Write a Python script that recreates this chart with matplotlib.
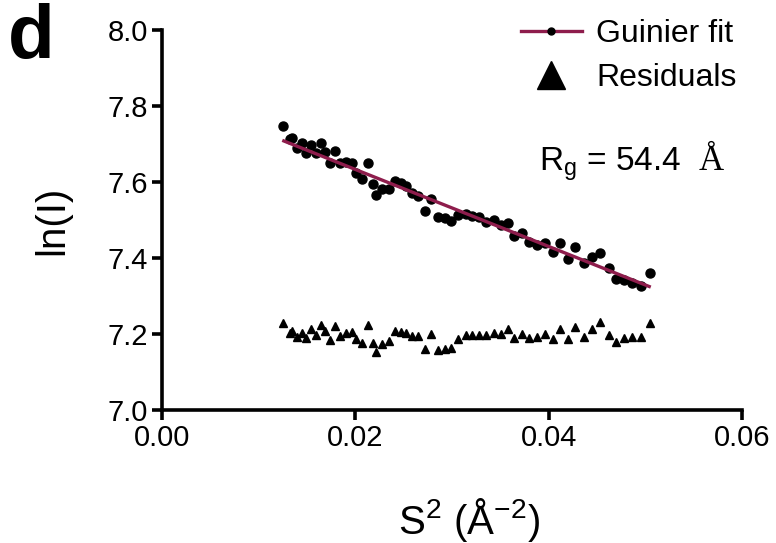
import numpy as np
import matplotlib
matplotlib.use('Agg')
import matplotlib.pyplot as plt
from matplotlib.lines import Line2D

plt.rcParams['font.family'] = ['Liberation Sans', 'DejaVu Sans']
plt.rcParams['mathtext.fontset'] = 'custom'
plt.rcParams['mathtext.rm'] = 'Liberation Sans'

# ---- data ----
s2 = [0.01251, 0.01320, 0.01347, 0.01395, 0.01443, 0.01492, 0.01543, 0.01595,
      0.01642, 0.01691, 0.01739, 0.01794, 0.01842, 0.01904, 0.01966, 0.02007,
      0.02069, 0.02127, 0.02178, 0.02213, 0.02275, 0.02343, 0.02405, 0.02471,
      0.02523, 0.02591, 0.02646, 0.02722, 0.02784, 0.02859, 0.02928, 0.02990,
      0.03065, 0.03141, 0.03209, 0.03278, 0.03354, 0.03433, 0.03505, 0.03574,
      0.03642, 0.03719, 0.03794, 0.03876, 0.03959, 0.04041, 0.04116, 0.04199,
      0.04275, 0.04364, 0.04446, 0.04536, 0.04619, 0.04701, 0.04776, 0.04866,
      0.04956, 0.05052]

lnI = [7.747, 7.712, 7.717, 7.689, 7.702, 7.677, 7.697, 7.676,
       7.702, 7.679, 7.649, 7.682, 7.649, 7.653, 7.651, 7.624,
       7.607, 7.651, 7.595, 7.565, 7.581, 7.581, 7.603, 7.597,
       7.589, 7.570, 7.563, 7.523, 7.556, 7.507, 7.504, 7.498,
       7.514, 7.516, 7.511, 7.509, 7.496, 7.500, 7.488, 7.491,
       7.458, 7.465, 7.442, 7.435, 7.440, 7.416, 7.440, 7.398,
       7.428, 7.388, 7.403, 7.414, 7.374, 7.344, 7.342, 7.335,
       7.326, 7.361]

residuals = [7.228, 7.203, 7.209, 7.193, 7.203, 7.189, 7.212, 7.197,
             7.224, 7.209, 7.184, 7.221, 7.195, 7.202, 7.205, 7.188,
             7.177, 7.223, 7.177, 7.153, 7.174, 7.182, 7.207, 7.205,
             7.203, 7.195, 7.195, 7.160, 7.200, 7.158, 7.161, 7.163,
             7.186, 7.197, 7.198, 7.198, 7.197, 7.203, 7.200, 7.212,
             7.189, 7.200, 7.189, 7.191, 7.200, 7.186, 7.214, 7.186,
             7.219, 7.193, 7.214, 7.232, 7.198, 7.179, 7.189, 7.191,
             7.193, 7.230]

fit_s2 = [0.0126, 0.0504]
fit_lnI = [7.708, 7.325]

x_ticks = [0.00, 0.02, 0.04, 0.06]
y_ticks = [7.0, 7.2, 7.4, 7.6, 7.8, 8.0]

fit_color = '#8e1d4c'

# ---- figure ----
fig = plt.figure(figsize=(7.76, 5.43), dpi=100)
ax = fig.add_axes([0.2088, 0.2449, 0.7474, 0.6999])

ax.plot(s2, lnI, 'o', color='black', markersize=6.5, zorder=3)
ax.plot(fit_s2, fit_lnI, '-', color=fit_color, linewidth=2.4, zorder=4)
ax.plot(s2, residuals, '^', color='black', markersize=5.5, zorder=3)

ax.set_xlim(0, 0.06)
ax.set_ylim(7.0, 8.0)
ax.set_xticks(x_ticks)
ax.set_yticks(y_ticks)
ax.set_xticklabels([f'{v:.2f}' for v in x_ticks])
ax.set_yticklabels([f'{v:.1f}' for v in y_ticks])

for side in ['top', 'right']:
    ax.spines[side].set_visible(False)
for side in ['left', 'bottom']:
    ax.spines[side].set_linewidth(2.6)
ax.tick_params(axis='both', direction='out', length=7, width=2.6,
               labelsize=21, pad=3)

ax.set_ylabel('ln(I)', fontsize=29, labelpad=26)
ax.set_xlabel(r'S$^\mathregular{2}$ (Å$^\mathregular{-2}$)', fontsize=29,
              labelpad=32, x=0.53)

# legend
handles = [
    Line2D([0], [0], color=fit_color, linewidth=2.4, marker='o',
           markersize=5, markerfacecolor='black', markeredgecolor='black'),
    Line2D([0], [0], linestyle='none', marker='^', color='black',
           markersize=20),
]
leg = ax.legend(handles, ['Guinier fit', 'Residuals'], loc='upper right',
                bbox_to_anchor=(1.04, 1.105), frameon=False, fontsize=23,
                handlelength=1.9, handletextpad=0.45, labelspacing=0.45)

rg = ax.text(0.65, 0.632, r'R$_\mathregular{g}$ = 54.4', transform=ax.transAxes,
             fontsize=24, ha='left', va='baseline')
fig.canvas.draw()
bb = rg.get_window_extent().transformed(ax.transAxes.inverted())
ax.text(bb.x1 + 0.03, 0.632, 'Å', transform=ax.transAxes,
        family='Liberation Serif', fontsize=25, ha='left', va='baseline')

fig.text(0.01, 0.995, 'd', fontsize=55, fontweight='bold', va='top')

fig.savefig('out.png', dpi=100)
